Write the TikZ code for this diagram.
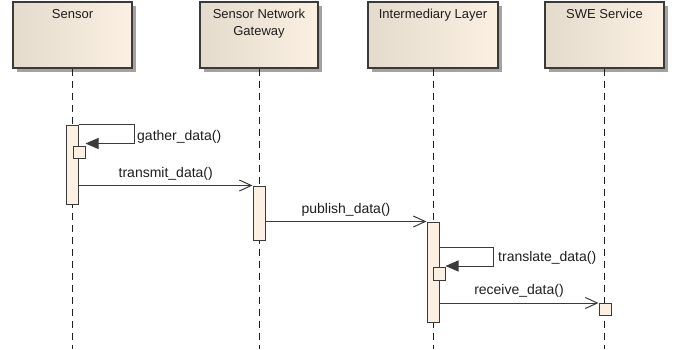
\documentclass[tikz,border=0pt]{standalone}
\usepackage{fontspec}
\setmainfont{Liberation Sans}
\usetikzlibrary{arrows.meta,shadows,calc}

\definecolor{boxfill}{HTML}{FBF0E1}
\definecolor{boxleft}{HTML}{E4DBCD}
\definecolor{edge}{HTML}{3A3A3A}
\definecolor{ink}{HTML}{1E1E1E}

\begin{document}
\begin{tikzpicture}[x=1pt,y=-1pt,
  head/.style={draw=edge, line width=1.3pt, rectangle, minimum height=66pt,
    left color=boxleft, middle color=boxfill, right color=boxfill,
    drop shadow={shadow xshift=3.5pt, shadow yshift=-3.5pt, fill=black!45, opacity=.8}},
  headtext/.style={anchor=north, align=center, text=ink, inner sep=0pt,
    font=\fontsize{13}{17}\selectfont},
  lifeline/.style={draw=ink, line width=0.9pt, dash pattern=on 7pt off 5pt},
  act/.style={draw=edge, line width=1pt, fill=boxfill, rectangle, minimum width=12pt,
    inner sep=0pt},
  msg/.style={draw=edge, line width=1pt, -{Straight Barb[length=12pt,width=11pt,line width=1pt]}},
  self/.style={draw=edge, line width=1pt, -{Triangle[length=13pt,width=11pt]}},
  msglabel/.style={text=ink, inner sep=0pt, font=\fontsize{14}{16}\selectfont}
]
\useasboundingbox (0,0) rectangle (675,349);

% lifeline heads
\node[head, minimum width=119pt] (hS) at (72.5,35) {};
\node[head, minimum width=118pt] (hG) at (259,35) {};
\node[head, minimum width=130pt] (hI) at (433,35) {};
\node[head, minimum width=119pt] (hW) at (604.5,35) {};

\node[headtext] (tS) at ([yshift=-8pt]hS.north) {Sensor};
\node[headtext] (tG) at ([yshift=-8pt]hG.north) {Sensor Network\\Gateway};
\node[headtext] (tI) at ([yshift=-8pt]hI.north) {Intermediary Layer};
\node[headtext] (tW) at ([yshift=-8pt]hW.north) {SWE Service};

% bottom ends of the lifelines
\coordinate (eS) at (hS.south |- 0,349);
\coordinate (eG) at (hG.south |- 0,349);
\coordinate (eI) at (hI.south |- 0,349);
\coordinate (eW) at (hW.south |- 0,349);

\draw[lifeline] (hS.south) -- (eS);
\draw[lifeline] (hG.south) -- (eG);
\draw[lifeline] (hI.south) -- (eI);
\draw[lifeline] (hW.south) -- (eW);

% activation bars
\node[act, minimum height=79pt] (aS) at (72.5,164.5) {};
\node[act, minimum height=12pt] (nS) at (79,152) {};
\node[act, minimum height=54pt] (aG) at (259,213) {};
\node[act, minimum height=100pt] (aI) at (433,272) {};
\node[act, minimum height=13pt] (nI) at (439,274) {};
\node[act, minimum height=12pt] (aW) at (605,309.5) {};

% self calls
\coordinate (sIout) at (aI.east |- 0,247);
\draw[self] (aS.north east) -- ++(55,0) |- ($(nS.north east)+(0,-2)$);
\draw[self] (sIout) -- ++(54,0) |- ($(nI.north east)+(0,-1)$);
\node[msglabel, anchor=west] (lGather) at (137,137) {gather\_data()};
\node[msglabel, anchor=west] (lTrans) at (498,258) {translate\_data()};

% messages
\draw[msg] (aS.east |- aG.north) -- (aG.north west)
  node[msglabel, midway, above=5pt] (lTransmit) {transmit\_data()};
\draw[msg] (aG.east |- aI.north) -- (aI.north west)
  node[msglabel, midway, above=5pt] (lPublish) {publish\_data()};
\draw[msg] (aI.east |- 0,303) -- (aW.north west |- 0,303)
  node[msglabel, midway, above=5pt] (lReceive) {receive\_data()};
\end{tikzpicture}
\end{document}
